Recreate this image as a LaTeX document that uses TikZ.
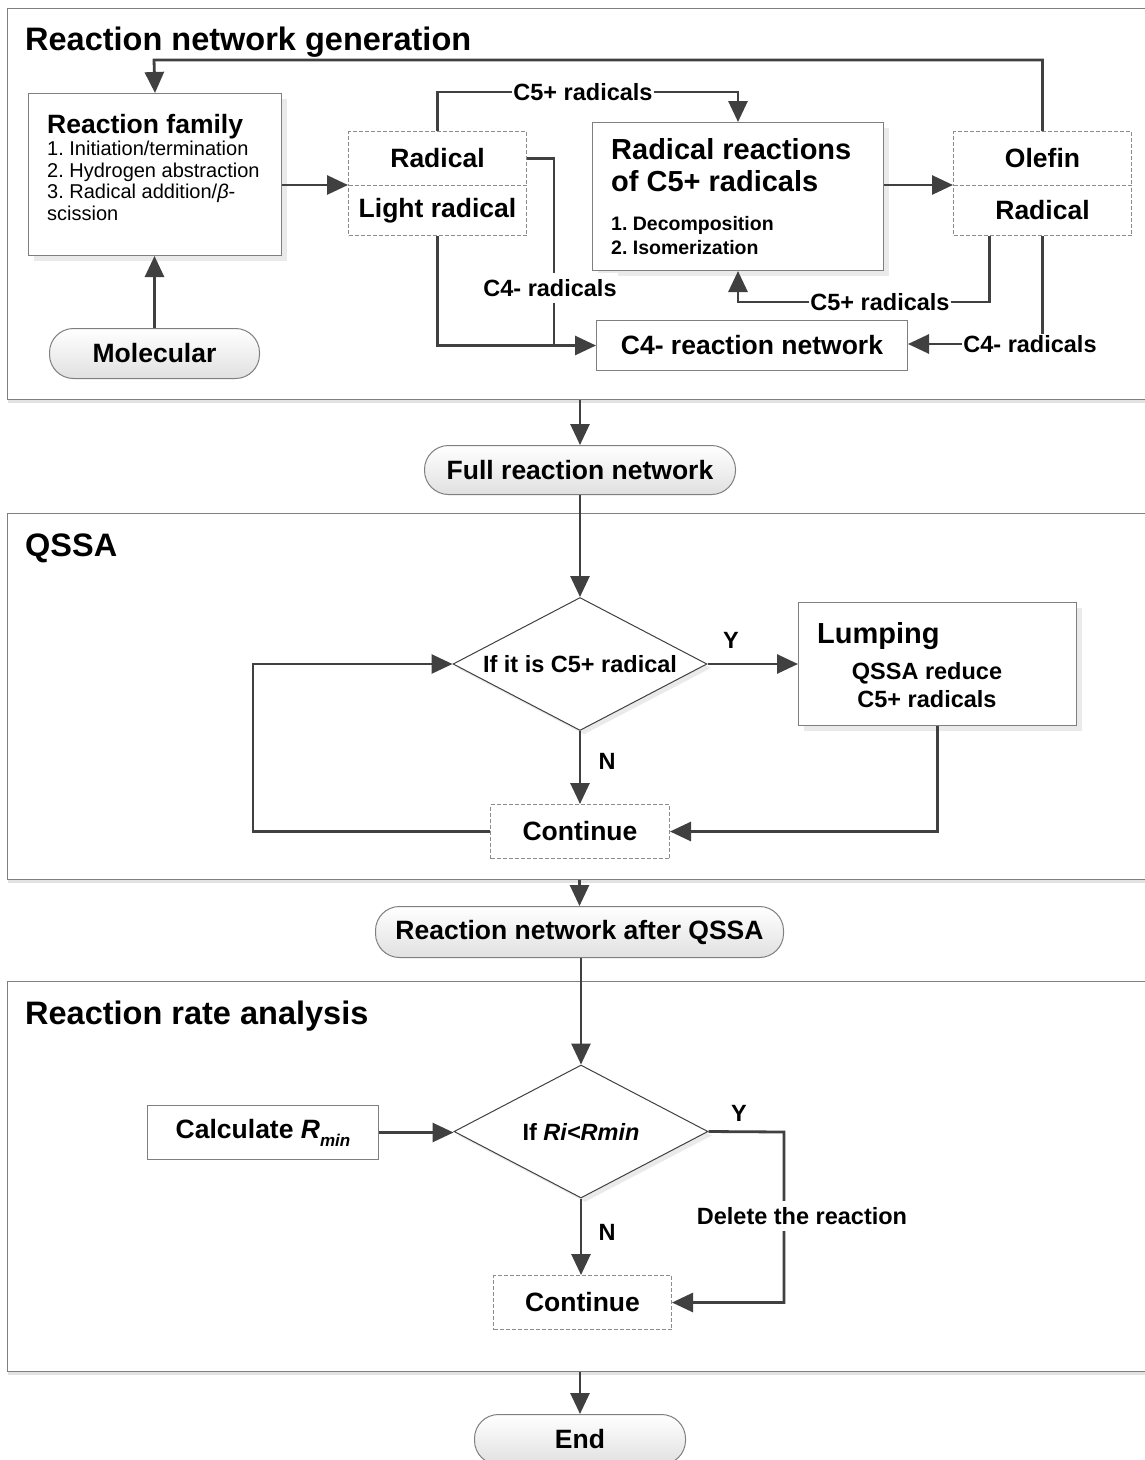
\documentclass[tikz,border=0pt]{standalone}
\usepackage{fontspec}
\setmainfont{Liberation Sans}
\usetikzlibrary{arrows.meta,shapes.geometric,shadows,calc}
\frenchspacing

\definecolor{lineC}{HTML}{404040}
\definecolor{edgeC}{HTML}{7F7F7F}
\definecolor{dashC}{HTML}{8C8C8C}

% font sizes (1pt = 1 unit of the picture)
\newcommand\fsect{\fontsize{32.5}{38}\selectfont\bfseries}
\newcommand\fmain{\fontsize{26.5}{31}\selectfont\bfseries}
\newcommand\fbig{\fontsize{29}{34}\selectfont\bfseries}
\newcommand\flab{\fontsize{23.5}{28}\selectfont\bfseries}
\newcommand\flist{\fontsize{20}{24}\selectfont}
\newcommand\flistb{\fontsize{19.5}{23}\selectfont\bfseries}

\tikzset{
  panel/.style={draw=edgeC, line width=1.2pt, fill=white, anchor=north west, inner sep=0,
    drop shadow={shadow xshift=0pt, shadow yshift=-3pt, fill=black!22}},
  box/.style={draw=edgeC, line width=1pt, fill=white, inner sep=0, anchor=north west, font=\fmain},
  sbox/.style={box, drop shadow={shadow xshift=5pt, shadow yshift=-5pt, fill=black!16}},
  dbox/.style={draw=dashC, dash pattern=on 4pt off 2pt, line width=1pt, fill=white,
    inner sep=0, anchor=north west, font=\fmain},
  term/.style={draw=edgeC, line width=1pt, rounded corners=24pt, top color=white,
    bottom color=black!12, inner sep=0, anchor=north west, font=\fmain},
  dec/.style={diamond, aspect=1.91, draw=lineC, line width=1pt, fill=white, inner sep=0,
    font=\flab, minimum width=254pt, minimum height=133pt,
    drop shadow={shadow xshift=4pt, shadow yshift=-4pt, fill=black!16}},
  wire/.style={draw=lineC, line width=2.8pt},
  arr/.style={wire, -{Triangle[length=21pt,width=19pt]}},
  lab/.style={font=\flab, inner xsep=1pt, inner ysep=1pt, fill=white},
  gaplab/.style={font=\flab, inner xsep=1pt, inner ysep=6pt, fill=white},
  txt/.style={inner sep=0, anchor=base west},
}

\begin{document}
\begin{tikzpicture}[x=1pt,y=-1pt]
\useasboundingbox (0,0) rectangle (1145,1460);
\fill[white] (0,0) rectangle (1145,1460);

% section panels
\node[panel, minimum width=1160pt, minimum height=391pt] (p1) at (7,8) {};
\node[panel, minimum width=1160pt, minimum height=366pt] (p2) at (7,513) {};
\node[panel, minimum width=1160pt, minimum height=390pt] (p3) at (7,981) {};
\node[txt, font=\fsect] (t1) at (25,50) {Reaction network generation};
\node[txt, font=\fsect] (t2) at (25,556) {QSSA};
\node[txt, font=\fsect] (t3) at (25,1024) {Reaction rate analysis};

% reaction network generation
\node[sbox, minimum width=253pt, minimum height=162pt] (rf) at (28,93) {};
\node[txt, font=\fmain] (rf0) at (47,133) {Reaction family};
\node[txt, font=\flist] (rf1) at (47,155) {1. Initiation/termination};
\node[txt, font=\flist] (rf2) at (47,177) {2. Hydrogen abstraction};
\node[txt, font=\flist] (rf3) at (47,198) {3. Radical addition/\textit{β}-};
\node[txt, font=\flist] (rf4) at (47,220) {scission};

\node[dbox, minimum width=178pt, minimum height=54pt] (radT) at (348,131) {Radical};
\node[dbox, minimum width=178pt, minimum height=50pt] (radB) at (348,185) {Light radical};

\node[sbox, minimum width=291pt, minimum height=148pt] (rr) at (592,122) {};
\node[txt, font=\fbig] (rr0) at (611,159) {Radical reactions};
\node[txt, font=\fbig] (rr1) at (611,191) {of C5+ radicals};
\node[txt, font=\flistb] (rr2) at (611,230) {1. Decomposition};
\node[txt, font=\flistb] (rr3) at (611,254) {2. Isomerization};

\node[dbox, minimum width=178pt, minimum height=54pt] (olT) at (953,131) {Olefin};
\node[dbox, minimum width=178pt, minimum height=50pt] (olB) at (953,185) {Radical};

\node[box, minimum width=311pt, minimum height=50pt] (c4) at (596,320) {C4- reaction network};
\node[term, minimum width=210pt, minimum height=50pt] (mol) at (49,328) {Molecular};

\node[lab] (l1) at (583,92) {C5+ radicals};
\node[lab] (l3) at (880,302) {C5+ radicals};
\node[lab] (l4) at (1030,344) {C4- radicals};

\coordinate (tl) at (154,60);
\coordinate (jn) at (554,345);

\draw[arr] (olT.north) |- (tl) -- (rf.north);
\draw[arr] (mol.north) -- (mol.north |- rf.south);
\draw[arr] (rf.east |- radB.north west) -- (radB.north west);
\draw[wire] (radT.north) |- (l1.west);
\draw[arr] (l1.east) -| (rr.north);
\draw[wire] (radT.east) -| (jn);
\draw[arr] (radB.south) |- (c4.west);
\draw[arr] (rr.east |- olB.north west) -- (olB.north west);
\draw[wire] ([xshift=-53pt]olB.south) |- (l3.east);
\draw[arr] (l3.west) -| (rr.south);
\draw[wire] (olB.south) -- (olB.south |- l4.north);
\draw[arr] (l4.west) -- (l4.west -| c4.east);
\node[gaplab] (l2) at (550,288) {C4- radicals};

% full network and QSSA
\node[term, minimum width=311pt, minimum height=49pt] (fr) at (424,445) {Full reaction network};
\node[dec] (d1) at (580,664) {If it is C5+ radical};
\node[sbox, minimum width=278pt, minimum height=123pt] (lump) at (798,602) {};
\node[txt, font=\fbig] (lp0) at (817,643) {Lumping};
\node[inner sep=0, anchor=base, font=\flab] (lp1) at (927,679) {QSSA reduce};
\node[inner sep=0, anchor=base, font=\flab] (lp2) at (927,707) {C5+ radicals};
\node[dbox, minimum width=179pt, minimum height=54pt] (cont1) at (490,804) {Continue};
\node[font=\flab, inner sep=0] (y1) at (731,640) {Y};
\node[font=\flab, inner sep=0] (n1) at (607,761) {N};
\coordinate (lx) at (253,664);

\draw[arr] (fr.north |- p1.south) -- (fr.north);
\draw[arr] (fr.south) -- (d1.north);
\draw[arr] (d1.east) -- (lump.west);
\draw[arr] (d1.south) -- (cont1.north);
\draw[arr] (lump.south) |- (cont1.east);
\draw[arr] (cont1.west) -| (lx) -- (d1.west);

% reaction rate analysis
\node[term, minimum width=408pt, minimum height=51pt] (rnq) at (375,906) {Reaction network after QSSA};
\node[dec] (d2) at (581,1131.5) {If \textit{Ri<Rmin}};
\node[box, minimum width=231pt, minimum height=54pt] (calc) at (147,1105)
  {Calculate \textit{R}\raisebox{-0.3em}{\fontsize{17}{17}\selectfont\itshape min}};
\node[dbox, minimum width=178pt, minimum height=54pt] (cont2) at (493,1275) {Continue};
\node[term, minimum width=211pt, minimum height=50pt] (endn) at (474,1414) {End};
\node[font=\flab, inner sep=0] (y2) at (739,1113) {Y};
\node[font=\flab, inner sep=0] (n2) at (607,1232) {N};
\coordinate (dx) at (784,1132);

\draw[arr] (rnq.north |- p2.south) -- (rnq.north);
\draw[arr] (d2.north |- rnq.south) -- (d2.north);
\draw[arr] (calc.east) -- (calc.east -| d2.west);
\draw[arr] (d2.east) -- (dx) |- (cont2.east);
\draw[arr] (d2.south) -- (d2.south |- cont2.north);
\draw[arr] (endn.north |- p3.south) -- (endn.north);
\node[gaplab] (del) at (802,1216) {Delete the reaction};
\end{tikzpicture}
\end{document}
